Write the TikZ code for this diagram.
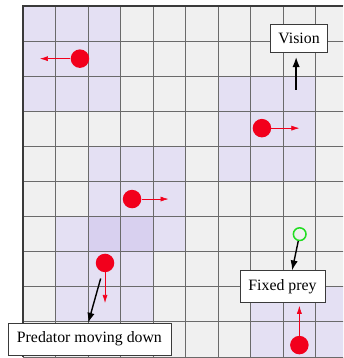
\documentclass[tikz,border=0pt]{standalone}
\usepackage{fontspec}
\setmainfont{Liberation Serif}
\usetikzlibrary{arrows.meta,positioning}
\definecolor{cellbg}{HTML}{F0F0F0}
\definecolor{sightbg}{HTML}{E4E0F3}
\definecolor{sightdeep}{HTML}{D8D0EF}
\definecolor{gridink}{HTML}{6A6A6A}
\definecolor{boxink}{HTML}{3A3A3A}
\definecolor{predred}{HTML}{F2001C}
\definecolor{preygreen}{HTML}{22DD22}
\tikzset{
  gridline/.style={draw=gridink, line width=0.85pt},
  predator/.style={circle, fill=predred, inner sep=0pt, minimum size=0.555cm},
  prey/.style={circle, draw=preygreen, line width=1.3pt, inner sep=0pt, minimum size=0.38cm},
  moveline/.style={draw=predred, line width=0.5pt, -{Latex[length=0.24cm,width=0.15cm]}},
  callout/.style={draw=boxink, fill=white, line width=0.6pt, inner sep=0pt,
    font=\fontsize{13.5}{16}\selectfont},
  pointer/.style={draw=black, line width=1.2pt, -{Latex[length=0.3cm,width=0.22cm]}}
}

\begin{document}
\begin{tikzpicture}[x=0.9765cm, y=-1.053cm]
  \useasboundingbox (-0.7066,-0.1709) rectangle (9.831,10.028);
  \begin{scope}
    \clip (0,0) rectangle (9.831,10);
    \fill[cellbg] (0,0) rectangle (10,10);
    % fields of view
    \foreach \i/\j in {0/0, 6/2, 2/4, 1/6, 7/8}
      \fill[sightbg] (\i,\j) rectangle ++(3,3);
    \fill[sightdeep] (2,6) rectangle (4,7);
    \foreach \i in {0,...,10}
      \draw[gridline] (\i,0) -- (\i,10);
    \foreach \j in {0,...,10}
      \draw[gridline] (0,\j) -- (10,\j);
  \end{scope}
  \draw[boxink, line width=0.9pt] (0,10) -- (0,0) -- (9.831,0);

  % agents
  \node[predator] (p1) at (1.75,1.5) {};
  \node[predator] (p2) at (7.34,3.48) {};
  \node[predator] (p3) at (3.35,5.5) {};
  \node[predator] (p4) at (2.52,7.32) {};
  \node[predator] (p5) at (8.49,9.66) {};
  \node[prey] (prey) at (8.5,6.5) {};

  \coordinate (m1) at (0.52,1.5);
  \coordinate (m2) at (8.49,3.48);
  \coordinate (m3) at (4.47,5.5);
  \coordinate (m4) at (2.52,8.46);
  \coordinate (m5) at (8.49,8.54);
  \foreach \p in {1,...,5}
    \draw[moveline] (p\p) -- (m\p);

  % labels
  \node[callout, minimum width=1.72cm, minimum height=0.85cm] (vision) at (8.48,0.917) {Vision};
  \coordinate (eye) at (8.39,2.39);
  \draw[pointer, shorten >=0.13cm] (eye) -- (eye |- vision.south);

  \node[callout, minimum width=2.55cm, minimum height=0.96cm] (fixed) at (7.97,8.0) {Fixed prey};
  \draw[pointer] (prey) -- ([xshift=0.29cm]fixed.north);

  \node[callout, minimum width=4.89cm, minimum height=0.96cm] (down) at (2.04,9.49) {Predator moving down};
  \draw[pointer, shorten <=0.2cm] (p4) -- ([xshift=-0.035cm]down.north);
\end{tikzpicture}
\end{document}
